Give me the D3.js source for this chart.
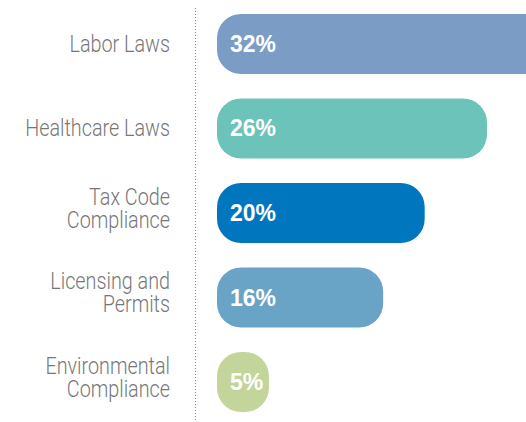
<!DOCTYPE html>
<html>
<head>
<meta charset="utf-8">
<script src="https://cdn.jsdelivr.net/npm/d3@7"></script>
<style>
    body { margin: 0; background: #fff; }
    svg { display: block; }
</style>
</head>
<body>
<svg id="chart"></svg>
<script>

// data
const categories = [["Labor Laws"], ["Healthcare Laws"], ["Tax Code", "Compliance"], ["Licensing and", "Permits"], ["Environmental", "Compliance"]];
const values = [32, 26, 20, 16, 5];
const barColors = ["#7b9cc4", "#6cc3b9", "#0076bf", "#69a3c5", "#c4d59b"];

const width = 526, height = 422;

const svg = d3.select("#chart")
    .attr("width", width)
    .attr("height", height);

const x = d3.scaleLinear()
    .domain([0, 26])
    .range([217, 487]);

const y = d3.scaleBand()
    .domain(d3.range(categories.length))
    .range([14, 412])
    .paddingInner(0.29)
    .paddingOuter(0);

// dotted axis line
svg.append("line")
    .attr("x1", 195.5).attr("x2", 195.5)
    .attr("y1", 8).attr("y2", height)
    .attr("stroke", "#888")
    .attr("stroke-width", 1)
    .attr("stroke-dasharray", "1,2");

// Draw bars
svg.selectAll("rect.bar")
    .data(values)
    .join("rect")
    .attr("class", "bar")
    .attr("x", x(0))
    .attr("y", (d, i) => y(i))
    .attr("width", d => x(d) - x(0))
    .attr("height", y.bandwidth())
    .attr("rx", 24)
    .attr("ry", 24)
    .attr("fill", (d, i) => barColors[i]);

// value labels
svg.selectAll("text.value")
    .data(values)
    .join("text")
    .attr("class", "value")
    .attr("x", x(0) + 13)
    .attr("y", (d, i) => y(i) + y.bandwidth() / 2 + 8)
    .attr("font-family", "'Liberation Sans', Arial, sans-serif")
    .attr("font-weight", "bold")
    .attr("font-size", 23)
    .attr("fill", "#fff")
    .text(d => d + "%");

// category labels (condensed look: squeeze horizontally)
const labels = svg.selectAll("text.cat")
    .data(categories)
    .join("text")
    .attr("class", "cat")
    .attr("text-anchor", "end")
    .attr("transform", "translate(170,0) scale(0.86,1)")
    .attr("font-family", "Roboto, sans-serif")
    .attr("font-weight", 300)
    .attr("font-size", 23)
    .attr("fill", "#777");

labels.each(function(lines, i) {
    let cy = y(i) + y.bandwidth() / 2;
    let first = lines.length === 1 ? cy + 8 : cy - 8;
    lines.forEach((line, j) => {
        d3.select(this).append("tspan")
            .attr("x", 0)
            .attr("y", first + j * 23)
            .text(line);
    });
});

</script>
</body>
</html>
